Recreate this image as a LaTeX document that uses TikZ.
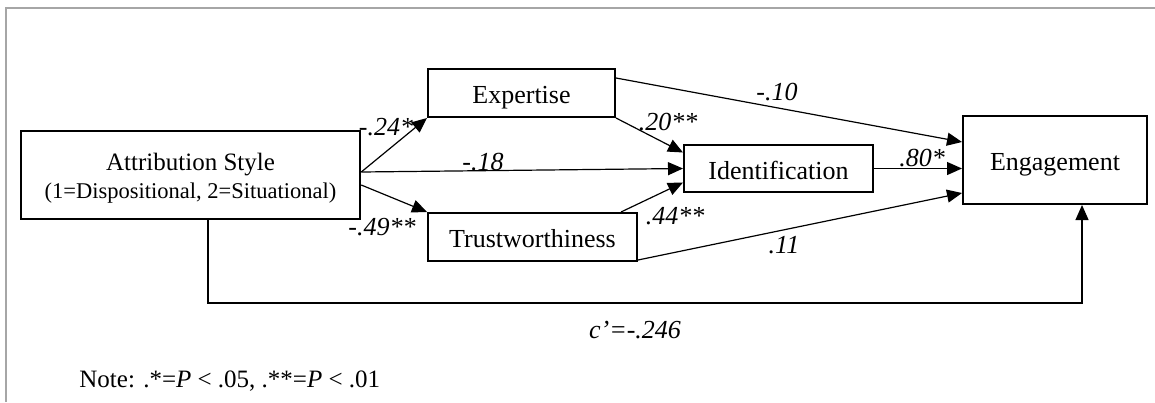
\documentclass[tikz,border=0pt]{standalone}
\usepackage{fontspec}
\setmainfont{Liberation Serif}
\usetikzlibrary{arrows.meta}

\tikzset{
  var/.style={draw, line width=1pt, inner sep=0pt, text height=10.6pt, text depth=0pt,
              font=\fontsize{13pt}{15pt}\selectfont},
  link/.style={line width=0.6pt, -{Triangle[length=7.5pt,width=6.5pt]}},
  coef/.style={inner sep=0pt, font=\fontsize{13pt}{15pt}\selectfont\itshape},
}

\begin{document}
\begin{tikzpicture}[x=0.5pt,y=-0.5pt]
        \useasboundingbox (0,0) rectangle (1155,402);
        % Gray frame (top and left only)
        \draw [black!35, line width=1pt] (6,402) -- (6,8) -- (1155,8);
        % Variables
        \node[var, line width=1.25pt, align=center, minimum width=169.5pt, minimum height=44pt,
              text height={}, text depth={},
              font=\fontsize{12.5pt}{14pt}\selectfont] (attr) at (190.5,175)
              {\rule{0pt}{11.5pt}Attribution Style\\{\fontsize{11.25pt}{14pt}\selectfont (1=Dispositional, 2=Situational)}};
        \node[var, minimum width=93.5pt, minimum height=24pt] (expert) at (521.5,93) {Expertise};
        \node[var, minimum width=104.5pt, minimum height=24pt] (trust) at (532.5,237) {Trustworthiness};
        \node[var, minimum width=94.5pt, minimum height=23.5pt] (ident) at (778.5,168.5) {Identification};
        \node[var, minimum width=92pt, minimum height=44pt] (engage) at (1055,160) {Engagement};
        % Paths to the mediators
        \draw[link] ([yshift=1.5pt]attr.east) -- (expert.south west);
        \draw[link] ([yshift=-5pt]attr.east) -- (trust.north west);
        \draw[link] ([yshift=1.5pt]attr.east) -- (ident.west);
        \draw[link] (expert.south east) -- ([yshift=8pt]ident.west);
        \draw[link] ([xshift=-8.5pt]trust.north east) -- ([yshift=-7pt]ident.west);
        % Paths to engagement
        \draw[link] ([yshift=7.5pt]expert.east) -- ([yshift=9pt]engage.west);
        \draw[link] (ident.east) -- (ident.east -| engage.west);
        \draw[link] ([yshift=1pt]trust.south east) -- ([yshift=-16.5pt]engage.west);
        % Direct effect
        \coordinate (cbend) at (1082,303);
        \draw[link] ([xshift=8.75pt]attr.south) |- (cbend) -- (cbend |- engage.south);
        % Coefficients
        \node[coef] (a1) at (386,127) {-.24*};
        \node[coef] (a2) at (382,227) {-.49**};
        \node[coef] (c1) at (483,162) {-.18};
        \node[coef] (b1) at (668,122) {.20**};
        \node[coef] (b2) at (675,216) {.44**};
        \node[coef] (d1) at (777,92) {-.10};
        \node[coef] (d2) at (922,158) {.80*};
        \node[coef] (d3) at (784,245) {.11};
        \node[coef] (cp) at (635,330) {c'=-.246};
        % Note
        \node[anchor=west, inner sep=0pt, font=\fontsize{12.5pt}{15pt}\selectfont] (note) at (79,381)
              {Note: .*=\textit{P} < .05, .**=\textit{P} < .01};
\end{tikzpicture}
\end{document}
